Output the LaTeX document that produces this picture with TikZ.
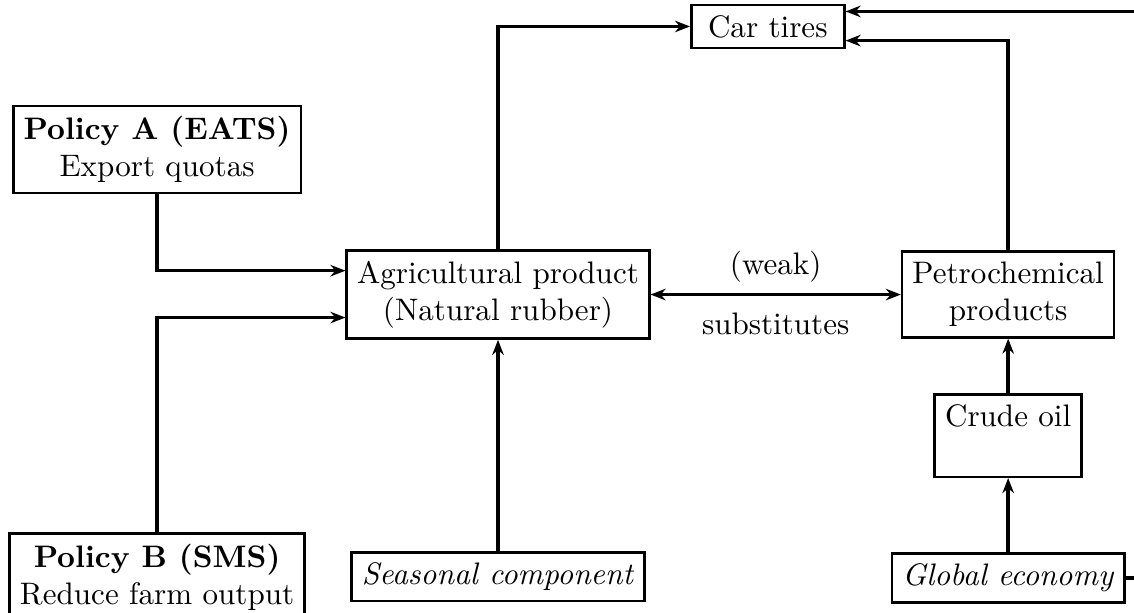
\documentclass[tikz,border=0pt]{standalone}
\usetikzlibrary{positioning, arrows.meta}

\begin{document}
\begin{tikzpicture}[
  node distance=0.5cm,
  box/.style={rectangle, draw, thick, align=center},
  arr/.style={-{Stealth[length=1.7mm, width=1.3mm]}, line width=1.1pt},
]
\useasboundingbox (-5.63,3.33) rectangle (7.19,-3.60);
\node[box] (agri) at (0,0) {Agricultural product\\(Natural rubber)};
\node[box, right=2.83cm of agri] (petro) {Petrochemical\\products};
\node[box, above=2.26cm of agri, xshift=3.05cm, minimum width=1.73cm] (tires) {Car tires};
\node[box, left=0.49cm of agri, yshift=1.64cm] (polA) {\textbf{Policy A (EATS)}\\Export quotas};
\node[box, below=3.82cm of polA] (polB) {\textbf{Policy B (SMS)}\\Reduce farm output};
\node[box, below=2.39cm of agri] (season) {\textit{Seasonal component}};
\node[box, below=0.62cm of petro, text depth=12.7pt] (crude) {Crude oil};
\node[box, below=0.84cm of crude] (globe) {\textit{Global economy}};
% Politikken
\draw[arr] (polA.south) |- ([yshift=0.27cm]agri.west);
\draw[arr] (polB.north) |- ([yshift=-0.26cm]agri.west);
\draw[arr] (season) -- (agri);
% Substitutter
\draw[arr, {Stealth[length=1.7mm, width=1.3mm]}-{Stealth[length=1.7mm, width=1.3mm]}] (agri.east) -- node[above]{(weak)} node[below=2pt]{substitutes} (petro.west);
\draw[arr] (globe) -- (crude);
\draw[arr] (crude) -- (petro);
% Til bildekk
\draw[arr] (agri.north) |- (tires.west);
\draw[arr] (petro.north) |- ([yshift=-0.16cm]tires.east);
\draw[arr] (globe.east) -- ++(0.4,0) |- ([yshift=0.17cm]tires.east);
\end{tikzpicture}
\end{document}
